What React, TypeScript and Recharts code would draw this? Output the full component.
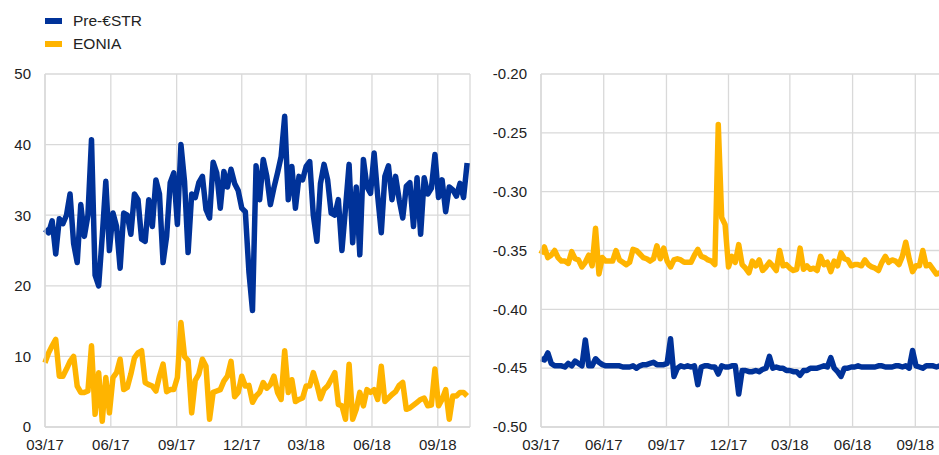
import React from "react";
import { LineChart, Line, XAxis, YAxis, CartesianGrid } from "recharts";

// data: one observation every 5 days from 1 March 2017
const DAY_STEP = 5;

// left panel: volume (EUR bn)
const preEstrVolume = [
  28, 27.5, 29.2, 24.5, 29.5, 28.8, 30, 33, 26, 23.3, 31.5, 27, 30, 40.7, 21.5, 20, 27, 34.8, 25, 30.3,
  28.4, 22.5, 30.3, 30, 27.3, 33, 32.2, 26.6, 26.3, 32.2, 28.4, 35, 33, 23.3, 27, 34.6, 36, 28.7, 40, 34.8,
  24.7, 33, 32.5, 34.6, 35.5, 30.8, 29.6, 37.5, 36, 31, 36.2, 34, 36.5, 34.5, 33.5, 31, 30.5, 22, 16.5, 37,
  32.2, 37.9, 35.5, 31.5, 33.9, 36, 38.3, 44, 32.2, 36.9, 31, 35.5, 35, 36.9, 37.6, 30, 26.3, 34.5, 37.2, 35,
  30.3, 30, 32.2, 25, 31, 37.2, 26.1, 34, 24.4, 37.9, 34, 33.1, 38.8, 32.7, 27.5, 35.5, 37, 32.2, 35.5, 32.2,
  29.6, 34.1, 34.6, 28.4, 35.3, 27.3, 35.3, 33, 33.8, 38.6, 32.5, 35, 30.5, 34, 33.6, 32.7, 34.5, 32.5, 37.4,
];
const eoniaVolume = [
  9.1, 10.5, 11.5, 12.4, 7.2, 7.2, 8.2, 9.3, 10, 5.8, 4.9, 4.9, 5.1, 11.5, 1.8, 7.7, 0.8, 7, 2, 7,
  7.7, 9.6, 5.3, 5.6, 7.5, 9.8, 10.5, 10.8, 6.3, 6, 5.8, 5.1, 7.2, 8.9, 5, 5.3, 5.3, 7, 14.8, 10,
  9.4, 2, 6.6, 7.5, 9.6, 8.6, 1.1, 4.9, 5.1, 5.3, 6.5, 7.2, 9.3, 4.3, 4.9, 7.2, 5.8, 5.9, 3.5, 4.4,
  4.9, 6.3, 5.5, 6, 7.2, 4.9, 3.9, 10.8, 4.9, 6.7, 3.6, 3.9, 4.1, 5.8, 5.8, 7.7, 6, 4, 5.3, 5.8,
  6.7, 7.7, 3.2, 3, 1.1, 8.9, 1.1, 2.5, 4.9, 3, 5.3, 4.9, 5.3, 3.9, 8.6, 3.6, 4.1, 4.6, 5, 5.9,
  6.3, 2.5, 2.7, 3.1, 3.5, 3.9, 4.1, 3, 3.1, 8.2, 3, 3.9, 5.3, 1.1, 4.4, 4.4, 4.9, 4.9, 4.4,
];

// right panel: rate (%)
const preEstrRate = [
  -0.442, -0.443, -0.437, -0.446, -0.448, -0.448, -0.448, -0.449, -0.446, -0.448, -0.444, -0.446, -0.448, -0.426, -0.448, -0.448, -0.442, -0.445, -0.447, -0.448,
  -0.448, -0.448, -0.448, -0.448, -0.449, -0.449, -0.449, -0.448, -0.45, -0.448, -0.447, -0.447, -0.446, -0.445, -0.447, -0.447, -0.447, -0.446, -0.425, -0.457,
  -0.45, -0.448, -0.449, -0.448, -0.449, -0.448, -0.464, -0.449, -0.448, -0.448, -0.449, -0.449, -0.455, -0.448, -0.449, -0.449, -0.448, -0.448, -0.472, -0.452,
  -0.452, -0.453, -0.453, -0.452, -0.453, -0.451, -0.45, -0.44, -0.45, -0.449, -0.45, -0.45, -0.452, -0.452, -0.453, -0.453, -0.456, -0.452, -0.452, -0.45,
  -0.45, -0.45, -0.449, -0.448, -0.449, -0.441, -0.45, -0.453, -0.457, -0.45, -0.45, -0.449, -0.449, -0.448, -0.449, -0.449, -0.449, -0.449, -0.449, -0.448,
  -0.448, -0.449, -0.449, -0.449, -0.448, -0.448, -0.449, -0.448, -0.45, -0.435, -0.448, -0.449, -0.45, -0.448, -0.448, -0.448, -0.449, -0.448, -0.448,
];
const eoniaRate = [
  -0.353, -0.347, -0.356, -0.354, -0.35, -0.356, -0.359, -0.359, -0.361, -0.351, -0.357, -0.358, -0.364, -0.36, -0.354, -0.363, -0.331, -0.37, -0.356, -0.359,
  -0.359, -0.359, -0.35, -0.358, -0.36, -0.362, -0.36, -0.349, -0.35, -0.353, -0.356, -0.357, -0.359, -0.357, -0.346, -0.357, -0.348, -0.359, -0.364, -0.358,
  -0.357, -0.358, -0.36, -0.36, -0.36, -0.354, -0.349, -0.355, -0.356, -0.358, -0.359, -0.362, -0.243, -0.322, -0.328, -0.364, -0.355, -0.36, -0.345, -0.362,
  -0.365, -0.369, -0.359, -0.363, -0.358, -0.367, -0.364, -0.36, -0.363, -0.367, -0.35, -0.363, -0.362, -0.365, -0.367, -0.366, -0.348, -0.366, -0.363, -0.366,
  -0.365, -0.367, -0.355, -0.362, -0.36, -0.368, -0.359, -0.363, -0.352, -0.357, -0.358, -0.363, -0.362, -0.362, -0.363, -0.358, -0.362, -0.364, -0.365, -0.367,
  -0.36, -0.355, -0.36, -0.358, -0.359, -0.362, -0.355, -0.343, -0.357, -0.368, -0.363, -0.363, -0.35, -0.363, -0.362, -0.366, -0.37, -0.369, -0.37,
];

// quarter ticks (days since 1 March 2017)
const quarterDays = [0, 92, 184, 275, 365, 457, 549];
const quarterLabels = ["03/17", "06/17", "09/17", "12/17", "03/18", "06/18", "09/18"];
const volumeTicks = [0, 10, 20, 30, 40, 50];
const rateTicks = [-0.5, -0.45, -0.4, -0.35, -0.3, -0.25, -0.2];

const BLUE = "#003299";
const YELLOW = "#FFB400";
const GRID = "#d9d9d9";
const FONT = "'Liberation Sans', Arial, sans-serif";

const rows = preEstrVolume.map((_, i) => ({
  day: i * DAY_STEP,
  preVol: preEstrVolume[i],
  eonVol: eoniaVolume[i],
  preRate: preEstrRate[i],
  eonRate: eoniaRate[i],
}));

const tickStyle = { fill: "#222", fontSize: 15, fontFamily: FONT };
const fmtQuarter = (v: number) => quarterLabels[quarterDays.indexOf(v)] ?? "";

function Panel({
  left,
  width,
  yWidth,
  domain,
  ticks,
  fmt,
  keys,
}: {
  left: number;
  width: number;
  yWidth: number;
  domain: [number, number];
  ticks: number[];
  fmt: (v: number) => string;
  keys: [string, string];
}) {
  return (
    <div style={{ position: "absolute", left, top: 0 }}>
      <LineChart width={width} height={455} data={rows} margin={{ top: 74, right: 5, bottom: 0, left: 0 }}>
        <CartesianGrid stroke={GRID} strokeWidth={1.3} />
        <XAxis
          dataKey="day"
          type="number"
          domain={[0, 594]}
          ticks={quarterDays}
          tickFormatter={fmtQuarter}
          interval={0}
          height={28}
          tickSize={0}
          tickMargin={12}
          axisLine={{ stroke: GRID, strokeWidth: 1.3 }}
          tick={tickStyle}
        />
        <YAxis
          type="number"
          domain={domain}
          ticks={ticks}
          tickFormatter={fmt}
          interval={0}
          width={yWidth}
          tickSize={0}
          tickMargin={14}
          axisLine={{ stroke: GRID, strokeWidth: 1.3 }}
          tick={tickStyle}
        />
        <Line dataKey={keys[0]} stroke={BLUE} strokeWidth={5.5} dot={false} strokeLinejoin="round" isAnimationActive={false} />
        <Line dataKey={keys[1]} stroke={YELLOW} strokeWidth={5.5} dot={false} strokeLinejoin="round" isAnimationActive={false} />
      </LineChart>
    </div>
  );
}

export default function App() {
  return (
    <div
      style={{
        position: "fixed",
        left: 0,
        top: 0,
        width: 939,
        height: 455,
        overflow: "hidden",
        background: "#fff",
        fontFamily: FONT,
      }}
    >
      {/* legend */}
      <div style={{ position: "absolute", left: 45, top: 9, fontSize: 15.5, color: "#222", lineHeight: "23px" }}>
        <div style={{ display: "flex", alignItems: "center" }}>
          <span style={{ width: 17, height: 6, background: BLUE, marginRight: 11 }} />
          Pre-€STR
        </div>
        <div style={{ display: "flex", alignItems: "center" }}>
          <span style={{ width: 17, height: 6, background: YELLOW, marginRight: 11 }} />
          EONIA
        </div>
      </div>

      <Panel
        left={0}
        width={475}
        yWidth={45}
        domain={[0, 50]}
        ticks={volumeTicks}
        fmt={(v) => String(v)}
        keys={["preVol", "eonVol"]}
      />
      <Panel
        left={470}
        width={481}
        yWidth={71}
        domain={[-0.5, -0.2]}
        ticks={rateTicks}
        fmt={(v) => v.toFixed(2)}
        keys={["preRate", "eonRate"]}
      />
    </div>
  );
}
